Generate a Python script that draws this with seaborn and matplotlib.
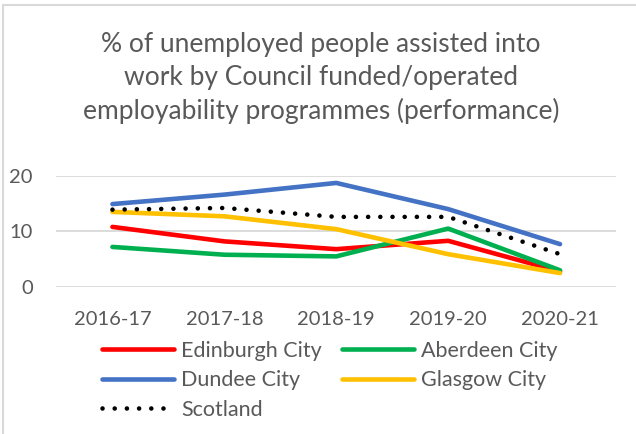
import matplotlib.pyplot as plt
import seaborn as sns
import pandas as pd
from matplotlib.patches import Rectangle

# data
years = ["2016-17", "2017-18", "2018-19", "2019-20", "2020-21"]
edinburgh = [10.8, 8.2, 6.8, 8.3, 2.8]
aberdeen = [7.2, 5.8, 5.5, 10.5, 3.0]
dundee = [14.9, 16.6, 18.7, 14.0, 7.7]
glasgow = [13.5, 12.7, 10.4, 5.9, 2.5]
scotland = [13.9, 14.2, 12.6, 12.6, 5.9]

series_names = ["Edinburgh City", "Aberdeen City", "Dundee City", "Glasgow City", "Scotland"]
series_values = [edinburgh, aberdeen, dundee, glasgow, scotland]
colors = ["#FF0000", "#00B050", "#4472C4", "#FFC000", "#000000"]

title = "% of unemployed people assisted into\nwork by Council funded/operated\nemployability programmes (performance)"

sns.set_theme(style="white")
plt.rcParams["font.family"] = ["Lato", "DejaVu Sans"]
text_color = "#595959"

fig = plt.figure(figsize=(6.36, 4.34), dpi=100)
ax = fig.add_axes([56.5 / 636, 1 - 287 / 434, (616 - 56.5) / 636, (287 - 175.7) / 434])

lw = 3.3
for name, vals, col in zip(series_names, series_values, colors):
    df = pd.DataFrame({"year": years, "value": vals})
    if name == "Scotland":
        sns.lineplot(data=df, x="year", y="value", ax=ax, color=col, linewidth=lw,
                     label=name, linestyle=(0, (0.01, 2.65)), dash_capstyle="round")
    else:
        sns.lineplot(data=df, x="year", y="value", ax=ax, color=col, linewidth=lw,
                     label=name, solid_capstyle="round")

ax.set_xlim(-0.5, 4.5)
ax.set_ylim(0, 20)
ax.set_yticks([0, 10, 20])
ax.yaxis.grid(True, color="#D9D9D9", linewidth=1.3)
ax.set_axisbelow(True)
for s in ax.spines.values():
    s.set_visible(False)
ax.set_xlabel("")
ax.set_ylabel("")
ax.tick_params(axis="both", length=0, labelsize=14.5, labelcolor=text_color)
ax.tick_params(axis="x", pad=17)
ax.tick_params(axis="y", pad=17)

# legend, row-major like the original
handles, labels = ax.get_legend_handles_labels()
ax.get_legend().remove()
order = [0, 2, 4, 1, 3]
leg = fig.legend([handles[i] for i in order], [labels[i] for i in order],
                 loc="upper left", bbox_to_anchor=(102 / 636, 1 - 341 / 434),
                 ncol=2, frameon=False, fontsize=15.5, handlelength=3.35,
                 handletextpad=0.33, columnspacing=0.93, labelspacing=0.43,
                 borderpad=0, borderaxespad=0)
for t in leg.get_texts():
    t.set_color(text_color)

fig.text(321 / 636, 1 - 78 / 434, title, ha="center", va="center",
         fontsize=19, color=text_color, linespacing=1.38)

# chart border (only left and top visible in the crop)
fig.patches.append(Rectangle((3.5 / 636, -0.1), 1.2, 1 - 4.5 / 434 + 0.1,
                             transform=fig.transFigure, fill=False,
                             edgecolor="#D9D9D9", linewidth=1.5))

fig.savefig("out.png", dpi=100, facecolor="white")
